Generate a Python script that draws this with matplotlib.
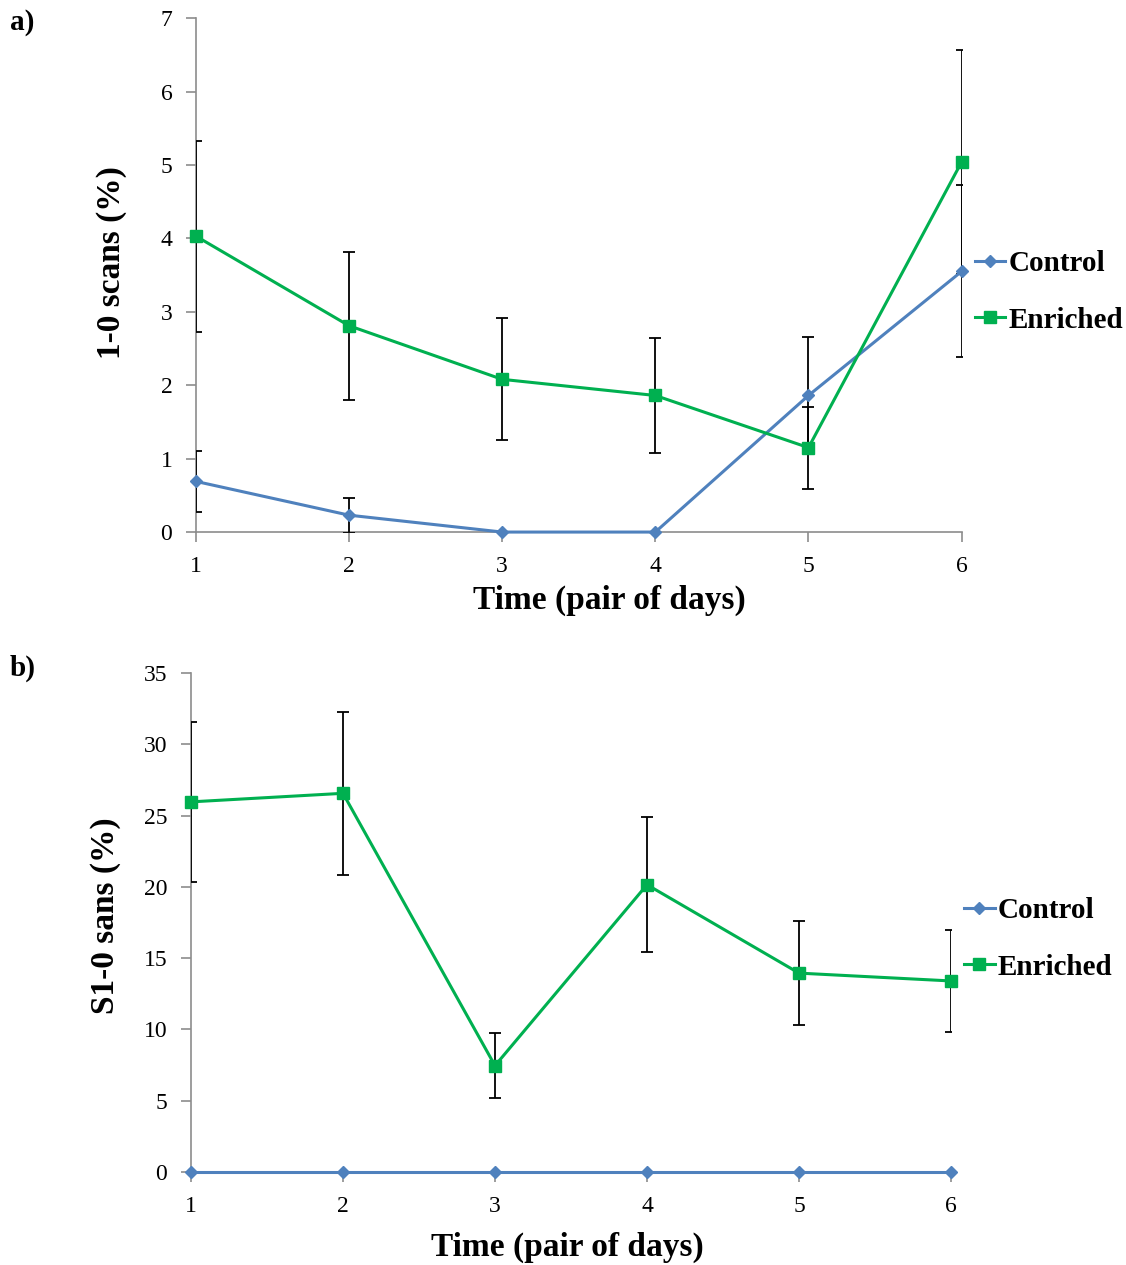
import matplotlib
matplotlib.use("Agg")
import matplotlib.pyplot as plt

plt.rcParams["font.family"] = ["Liberation Serif", "DejaVu Serif"]

days = [1, 2, 3, 4, 5, 6]

# panel a: 1-0 scans (%)
a_control = [0.69, 0.23, 0.0, 0.0, 1.86, 3.55]
a_control_err = [0.42, 0.24, 0.0, 0.0, 0.79, 1.17]
a_enriched = [4.03, 2.81, 2.08, 1.86, 1.15, 5.04]
a_enriched_err = [1.30, 1.01, 0.83, 0.78, 0.56, 1.52]

# panel b: S1-0 sans (%)
b_control = [0, 0, 0, 0, 0, 0]
b_control_err = [0, 0, 0, 0, 0, 0]
b_enriched = [25.96, 26.56, 7.46, 20.15, 13.95, 13.4]
b_enriched_err = [5.6, 5.73, 2.3, 4.75, 3.63, 3.55]

CONTROL_COLOR = "#4F81BD"
ENRICHED_COLOR = "#00B050"
SPINE_COLOR = "#8C8C8C"


def draw_panel(ax, control, control_err, enriched, enriched_err, ymax, ystep):
    """Draw one panel with two series and error bars."""
    ax.errorbar(days, control, yerr=control_err, fmt="none", ecolor="black",
                elinewidth=1.3, capsize=4, capthick=1.3, zorder=3)
    ax.errorbar(days, enriched, yerr=enriched_err, fmt="none", ecolor="black",
                elinewidth=1.3, capsize=4, capthick=1.3, zorder=3)
    ax.plot(days, control, color=CONTROL_COLOR, marker="D", markersize=6,
            linewidth=2.2, label="Control", clip_on=False, zorder=4)
    ax.plot(days, enriched, color=ENRICHED_COLOR, marker="s", markersize=9,
            linewidth=2.2, label="Enriched", clip_on=False, zorder=5)

    ax.set_xlim(1, 6)
    ax.set_ylim(0, ymax)
    ax.set_xticks(days)
    ax.set_yticks(range(0, ymax + 1, ystep))
    for side in ("top", "right"):
        ax.spines[side].set_visible(False)
    for side in ("left", "bottom"):
        ax.spines[side].set_color(SPINE_COLOR)
        ax.spines[side].set_linewidth(1.2)
    ax.tick_params(axis="both", direction="out", color=SPINE_COLOR,
                   length=7, width=1.2, labelsize=17)
    ax.tick_params(axis="x", pad=10)
    ax.tick_params(axis="y", pad=10)

    ax.legend(loc="center left", bbox_to_anchor=(1.0, 0.467), frameon=False,
              handlelength=1.05, handletextpad=0.1, labelspacing=1.0,
              borderaxespad=0.05, prop={"weight": "bold", "size": 21})


fig = plt.figure(figsize=(11.26, 12.65), dpi=100)

ax_a = fig.add_axes([0.174, 0.5794, 0.680, 0.4063])
draw_panel(ax_a, a_control, a_control_err, a_enriched, a_enriched_err, 7, 1)
ax_a.text(-0.110, 0.525, "1-0 scans (%)", transform=ax_a.transAxes,
          rotation=90, ha="center", va="center", fontsize=24, fontweight="bold")
ax_a.text(0.54, -0.132, "Time (pair of days)", transform=ax_a.transAxes,
          ha="center", va="center", fontsize=24, fontweight="bold")

ax_b = fig.add_axes([0.1696, 0.0735, 0.675, 0.3945])
draw_panel(ax_b, b_control, b_control_err, b_enriched, b_enriched_err, 35, 5)
ax_b.text(-0.112, 0.513, "S1-0 sans (%)", transform=ax_b.transAxes,
          rotation=90, ha="center", va="center", fontsize=24, fontweight="bold")
ax_b.text(0.495, -0.152, "Time (pair of days)", transform=ax_b.transAxes,
          ha="center", va="center", fontsize=24, fontweight="bold")

fig.text(10 / 1126, 1 - 22 / 1265, "a)", ha="left", va="center",
         fontsize=21, fontweight="bold")
fig.text(10 / 1126, 1 - 668 / 1265, "b)", ha="left", va="center",
         fontsize=21, fontweight="bold")

fig.savefig("out.png", dpi=100)
